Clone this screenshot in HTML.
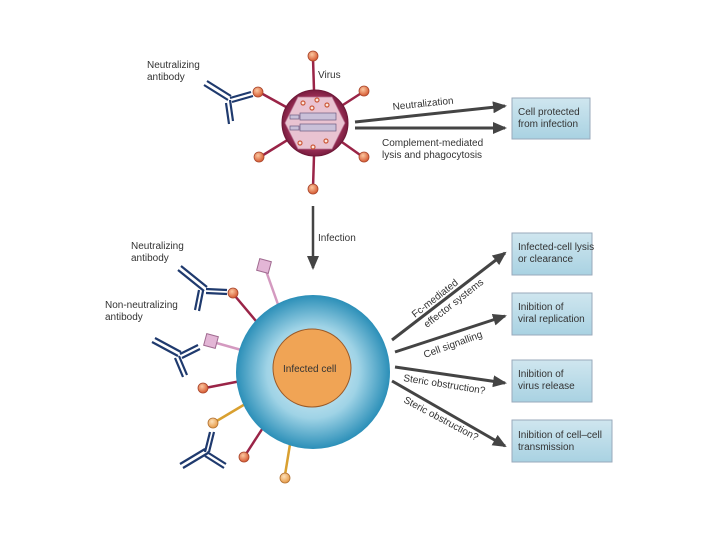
<!DOCTYPE html>
<html><head><meta charset="utf-8"><style>
html,body{margin:0;padding:0;background:#fff;}
svg{display:block;font-family:"Liberation Sans",sans-serif;}
text{fill:#333;font-size:10px;}
</style></head><body>
<svg width="720" height="540" viewBox="0 0 720 540" xmlns="http://www.w3.org/2000/svg">
<defs>
<radialGradient id="cell" cx="0.5" cy="0.5" r="0.5">
<stop offset="0" stop-color="#e6f5fa"/><stop offset="0.6" stop-color="#9fd3e6"/><stop offset="1" stop-color="#2b8fb8"/>
</radialGradient>
<radialGradient id="vir" cx="0.5" cy="0.5" r="0.5">
<stop offset="0" stop-color="#c06585"/><stop offset="0.8" stop-color="#9a2f55"/><stop offset="1" stop-color="#7a1d40"/>
</radialGradient>
<radialGradient id="ball" cx="0.4" cy="0.35" r="0.6">
<stop offset="0" stop-color="#fbc7a0"/><stop offset="1" stop-color="#d9623a"/>
</radialGradient>
<radialGradient id="ballY" cx="0.4" cy="0.35" r="0.6">
<stop offset="0" stop-color="#fde0b8"/><stop offset="1" stop-color="#e8a050"/>
</radialGradient>
<linearGradient id="box" x1="0" y1="0" x2="0" y2="1">
<stop offset="0" stop-color="#cfe6ef"/><stop offset="1" stop-color="#a9d2e2"/>
</linearGradient>
<marker id="ah" markerWidth="8" markerHeight="8" refX="6" refY="4" orient="auto" markerUnits="userSpaceOnUse">
<path d="M0,0 L8,4 L0,8 Z" fill="#444"/>
</marker>
<marker id="ahb" markerWidth="14" markerHeight="12" refX="12" refY="6" orient="auto" markerUnits="userSpaceOnUse">
<path d="M0,0 L14,6 L0,12 Z" fill="#444"/>
</marker>
</defs>

<!-- Virus spikes -->
<g stroke="#9a2447" stroke-width="2.5">
<line x1="315" y1="123" x2="313" y2="58"/>
<line x1="315" y1="123" x2="363" y2="92"/>
<line x1="315" y1="123" x2="259" y2="92"/>
<line x1="315" y1="123" x2="260" y2="157"/>
<line x1="315" y1="123" x2="363" y2="157"/>
<line x1="315" y1="123" x2="313" y2="188"/>
</g>
<g fill="url(#ball)" stroke="#a8442a" stroke-width="0.8">
<circle cx="313" cy="56" r="5"/><circle cx="364" cy="91" r="5"/><circle cx="258" cy="92" r="5"/>
<circle cx="259" cy="157" r="5"/><circle cx="364" cy="157" r="5"/><circle cx="313" cy="189" r="5"/>
</g>
<circle cx="315" cy="123" r="33" fill="url(#vir)" stroke="#6e1837" stroke-width="1"/>
<polygon points="298,97 332,97 345,123 332,149 298,149 285,123" fill="#e9c3d1" stroke="#b87090" stroke-width="0.8"/>
<g fill="#c9c0d8" stroke="#6a5a80" stroke-width="0.7">
<rect x="290" y="115" width="9" height="4"/><rect x="300" y="113" width="36" height="7"/>
<rect x="290" y="126" width="9" height="4"/><rect x="300" y="124" width="36" height="7"/>
</g>
<g fill="#fbe7df" stroke="#cc5a3a" stroke-width="1.2">
<circle cx="303" cy="103" r="2"/><circle cx="317" cy="100" r="2"/><circle cx="312" cy="108" r="2"/><circle cx="327" cy="105" r="2"/>
<circle cx="300" cy="143" r="2"/><circle cx="313" cy="147" r="2"/><circle cx="326" cy="141" r="2"/>
</g>
<text x="318" y="78">Virus</text>

<!-- top antibody -->
<g stroke="#1f3a6e" stroke-width="2.2" fill="none">
<path d="M204,85 L228,100 M207,81 L231,96"/>
<path d="M230,98 L251,92 M232,102 L253,96"/>
<path d="M230,100 L233,121 M226,103 L229,124"/>
</g>
<text x="147" y="68">Neutralizing</text>
<text x="147" y="80">antibody</text>

<!-- top arrows -->
<line x1="355" y1="122" x2="505" y2="106" stroke="#444" stroke-width="3" marker-end="url(#ahb)"/>
<line x1="355" y1="128" x2="505" y2="128" stroke="#444" stroke-width="3" marker-end="url(#ahb)"/>
<text x="393" y="110" transform="rotate(-6 393 110)">Neutralization</text>
<text x="382" y="146">Complement-mediated</text>
<text x="382" y="158">lysis and phagocytosis</text>
<rect x="512" y="98" width="78" height="41" fill="url(#box)" stroke="#9ab" stroke-width="1"/>
<text x="518" y="115">Cell protected</text>
<text x="518" y="127">from infection</text>

<!-- infection arrow -->
<line x1="313" y1="206" x2="313" y2="268" stroke="#444" stroke-width="2.5" marker-end="url(#ahb)"/>
<text x="318" y="241">Infection</text>

<!-- cell protrusions -->
<g stroke-width="2.5">
<line x1="280" y1="310" x2="265" y2="268" stroke="#d49ac0"/>
<line x1="252" y1="353" x2="213" y2="342" stroke="#d49ac0"/>
<line x1="261" y1="327" x2="235" y2="296" stroke="#9a2447"/>
<line x1="246" y1="380" x2="205" y2="388" stroke="#9a2447"/>
<line x1="252" y1="400" x2="215" y2="422" stroke="#d9a030"/>
<line x1="268" y1="420" x2="246" y2="454" stroke="#9a2447"/>
<line x1="292" y1="432" x2="285" y2="475" stroke="#d9a030"/>
</g>
<circle cx="313" cy="372" r="77" fill="url(#cell)"/>
<circle cx="312" cy="368" r="39" fill="#f0a455" stroke="#9a5a28" stroke-width="1"/>
<text x="283" y="372">Infected cell</text>
<g fill="#e3b6d6" stroke="#a06a90" stroke-width="1">
<rect x="258" y="260" width="12" height="12" transform="rotate(15 264 266)"/>
<rect x="205" y="335" width="12" height="12" transform="rotate(15 211 341)"/>
</g>
<g fill="url(#ball)" stroke="#a8442a" stroke-width="0.8">
<circle cx="233" cy="293" r="5"/><circle cx="203" cy="388" r="5"/><circle cx="244" cy="457" r="5"/>
</g>
<g fill="url(#ballY)" stroke="#b07030" stroke-width="0.8">
<circle cx="213" cy="423" r="5"/><circle cx="285" cy="478" r="5"/>
</g>

<!-- cell antibodies -->
<g stroke="#1f3a6e" stroke-width="2.2" fill="none">
<path d="M178,270 L204,291 M181,266 L207,287 M206,289 L227,290 M206,293 L227,294 M203,291 L199,311 M199,290 L195,310"/>
<path d="M152,342 L178,356 M155,338 L181,352 M180,354 L198,345 M182,358 L200,349 M179,356 L187,375 M175,358 L183,377"/>
<path d="M183,468 L208,453 M180,464 L205,449 M207,452 L226,464 M205,456 L224,468 M205,452 L210,432 M209,452 L214,432"/>
</g>
<text x="131" y="249">Neutralizing</text>
<text x="131" y="261">antibody</text>
<text x="105" y="308">Non-neutralizing</text>
<text x="105" y="320">antibody</text>

<!-- right arrows -->
<g stroke="#444" stroke-width="3">
<line x1="392" y1="340" x2="505" y2="253" marker-end="url(#ahb)"/>
<line x1="395" y1="352" x2="505" y2="316" marker-end="url(#ahb)"/>
<line x1="395" y1="367" x2="505" y2="383" marker-end="url(#ahb)"/>
<line x1="392" y1="381" x2="505" y2="446" marker-end="url(#ahb)"/>
</g>
<text x="415" y="318" transform="rotate(-38 415 318)">Fc-mediated</text>
<text x="427" y="328" transform="rotate(-38 427 328)">effector systems</text>
<text x="425" y="358" transform="rotate(-20 425 358)">Cell signalling</text>
<text x="403" y="381" transform="rotate(9 403 381)">Steric obstruction?</text>
<text x="403" y="402" transform="rotate(28 403 402)">Steric obstruction?</text>

<g fill="url(#box)" stroke="#9ab" stroke-width="1">
<rect x="512" y="233" width="80" height="42"/>
<rect x="512" y="293" width="80" height="42"/>
<rect x="512" y="360" width="80" height="42"/>
<rect x="512" y="420" width="100" height="42"/>
</g>
<text x="518" y="250">Infected-cell lysis</text>
<text x="518" y="262">or clearance</text>
<text x="518" y="310">Inibition of</text>
<text x="518" y="322">viral replication</text>
<text x="518" y="377">Inibition of</text>
<text x="518" y="389">virus release</text>
<text x="518" y="438">Inibition of cell–cell</text>
<text x="518" y="450">transmission</text>
</svg>
</body></html>
